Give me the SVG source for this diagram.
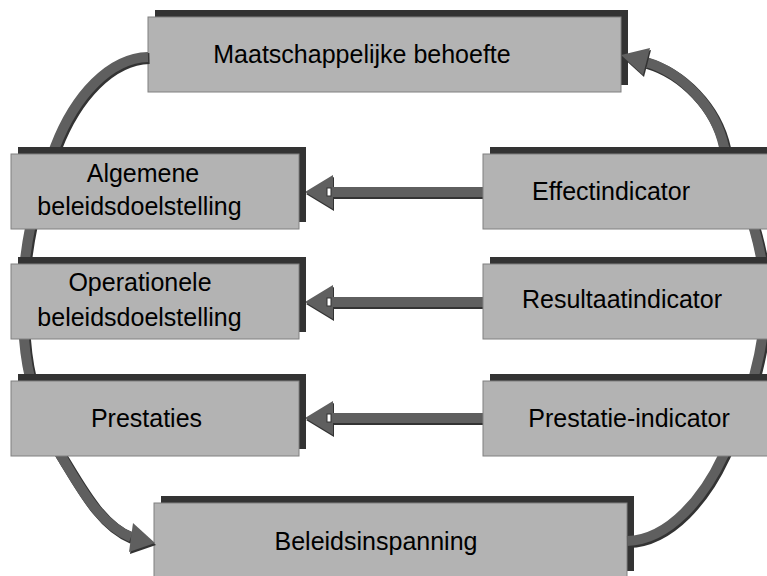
<svg xmlns="http://www.w3.org/2000/svg" width="767" height="576" viewBox="0 0 767 576">
<defs>
<style>
.sh{fill:#333333}
.bx{fill:#b3b3b3;stroke:#808080;stroke-width:1}
.t{font-family:"Liberation Sans",Arial,sans-serif;font-size:25px;fill:#000;text-anchor:middle}
.arcS{fill:none;stroke:#333333;stroke-width:11}
.arc{fill:none;stroke:#5f5f5f;stroke-width:10}
.ahS{fill:#333333}
.ah{fill:#5f5f5f}
.nt{fill:#ffffff;stroke:#333333;stroke-width:1}
</style>
</defs>
<rect width="767" height="576" fill="#ffffff"/>

<g id="node-maatschappelijke-behoefte">
<rect class="sh" x="155" y="10" width="473" height="75"/>
<rect class="bx" x="148" y="17" width="473" height="75"/>
<text class="t" x="362" y="63">Maatschappelijke behoefte</text>
</g>

<g id="node-beleidsinspanning">
<rect class="sh" x="161" y="496" width="473" height="75"/>
<rect class="bx" x="154" y="503" width="473" height="75"/>
<text class="t" x="376" y="550">Beleidsinspanning</text>
</g>

<g id="connectors">
<g transform="translate(1.5,1.5)">
<path class="arcS" d="M148,57 C110,58 75,95 55,147 C43,178 30,215 25,260 C21,300 22,345 30,378 C36,405 48,435 61,456 C80,487 100,525 131,537"/>
<path class="arcS" d="M646,62 C680,72 715,105 724,147 C740,190 765,240 765,300 C765,350 748,405 723,456 C705,495 670,540 627,541"/>
</g>
<path class="arc" d="M148,57 C110,58 75,95 55,147 C43,178 30,215 25,260 C21,300 22,345 30,378 C36,405 48,435 61,456 C80,487 100,525 131,537"/>
<path class="arc" d="M646,62 C680,72 715,105 724,147 C740,190 765,240 765,300 C765,350 748,405 723,456 C705,495 670,540 627,541"/>
<polygon class="ahS" transform="translate(1,2)" points="621,55 650,48 643,75"/>
<polygon class="ah" points="621,55 650,48 643,75"/>
<polygon class="ahS" transform="translate(1,2)" points="155,543 133,523 129,552"/>
<polygon class="ah" points="155,543 133,523 129,552"/>
<g transform="translate(0,192)">
<polygon class="ahS" transform="translate(1,2)" points="305,0 333,-17 333,-5 483,-5 483,5 333,5 333,17"/>
<polygon class="ah" points="305,0 333,-17 333,-5 483,-5 483,5 333,5 333,17"/>
<rect class="nt" x="327" y="-4" width="4" height="8"/>
</g>
<g transform="translate(0,302)">
<polygon class="ahS" transform="translate(1,2)" points="305,0 333,-17 333,-5 483,-5 483,5 333,5 333,17"/>
<polygon class="ah" points="305,0 333,-17 333,-5 483,-5 483,5 333,5 333,17"/>
<rect class="nt" x="327" y="-4" width="4" height="8"/>
</g>
<g transform="translate(0,418)">
<polygon class="ahS" transform="translate(1,2)" points="305,0 333,-17 333,-5 483,-5 483,5 333,5 333,17"/>
<polygon class="ah" points="305,0 333,-17 333,-5 483,-5 483,5 333,5 333,17"/>
<rect class="nt" x="327" y="-4" width="4" height="8"/>
</g>
</g>

<g id="node-algemene-beleidsdoelstelling">
<rect class="sh" x="18" y="147" width="288" height="75"/>
<rect class="bx" x="11" y="154" width="288" height="75"/>
<text class="t" x="143" y="182">Algemene</text>
<text class="t" x="139.5" y="215">beleidsdoelstelling</text>
</g>

<g id="node-operationele-beleidsdoelstelling">
<rect class="sh" x="18" y="257" width="288" height="75"/>
<rect class="bx" x="11" y="264" width="288" height="75"/>
<text class="t" x="140" y="291">Operationele</text>
<text class="t" x="139.5" y="326">beleidsdoelstelling</text>
</g>

<g id="node-prestaties">
<rect class="sh" x="18" y="374" width="288" height="75"/>
<rect class="bx" x="11" y="381" width="288" height="75"/>
<text class="t" x="146.5" y="427">Prestaties</text>
</g>

<g id="node-effectindicator">
<rect class="sh" x="490" y="147" width="288" height="75"/>
<rect class="bx" x="483" y="154" width="288" height="75"/>
<text class="t" x="611" y="200">Effectindicator</text>
</g>

<g id="node-resultaatindicator">
<rect class="sh" x="490" y="257" width="288" height="75"/>
<rect class="bx" x="483" y="264" width="288" height="75"/>
<text class="t" x="622" y="308">Resultaatindicator</text>
</g>

<g id="node-prestatie-indicator">
<rect class="sh" x="490" y="374" width="288" height="75"/>
<rect class="bx" x="483" y="381" width="288" height="75"/>
<text class="t" x="629" y="427">Prestatie-indicator</text>
</g>
</svg>
